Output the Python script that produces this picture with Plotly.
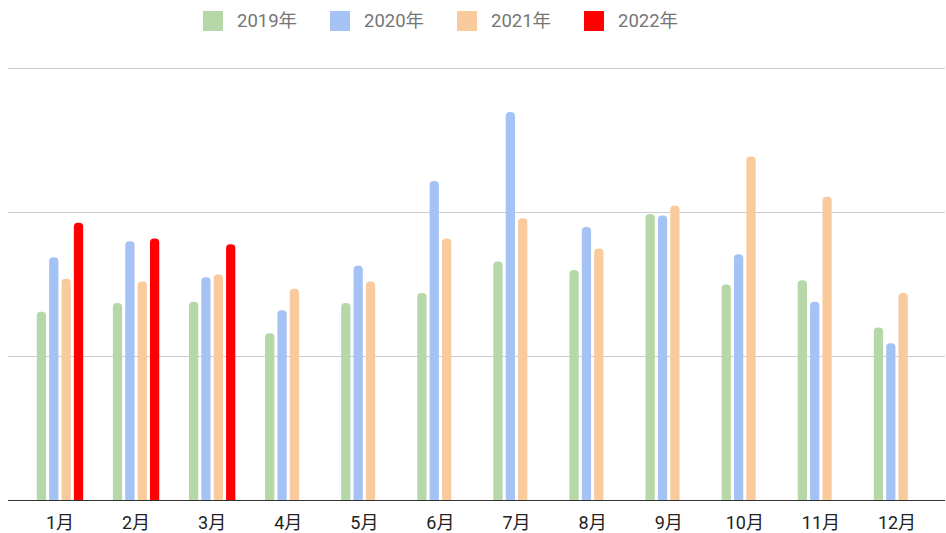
import plotly.graph_objects as go

months = ["1月", "2月", "3月", "4月", "5月", "6月", "7月", "8月", "9月", "10月", "11月", "12月"]
series_names = ["2019年", "2020年", "2021年", "2022年"]
colors = ["#b6d7a8", "#a4c2f4", "#f9cb9c", "#ff0000"]

v2019 = [131, 137, 138, 116, 137, 144, 166, 160, 199, 150, 153, 120]
v2020 = [169, 180, 155, 132, 163, 222, 270, 190, 198, 171, 138, 109]
v2021 = [154, 152, 157, 147, 152, 182, 196, 175, 205, 239, 211, 144]
v2022 = [193, 182, 178]

values = [v2019, v2020, v2021, v2022]

W, H = 946, 533
ML, MR, MT, MB = 8, 1, 66, 33
PW, PH = W - ML - MR, H - MT - MB
YMAX = 302

fig = go.Figure()
for name, col, vals in zip(series_names, colors, values):
    fig.add_trace(go.Bar(
        x=months[:len(vals)], y=vals, name=name,
        marker=dict(color=col, cornerradius="50%", line=dict(width=0)),
        showlegend=False,
    ))

FONT = "Roboto, 'Noto Sans CJK JP', sans-serif"

def px_x(px):
    return (px - ML) / PW

def px_y(py):
    return (H - MB - py) / PH

shapes = []
annotations = []
leg_x0, leg_step, sq, leg_cy = 203, 127, 20, 21
for i, (name, col) in enumerate(zip(series_names, colors)):
    x0 = leg_x0 + i * leg_step
    shapes.append(dict(type="rect", xref="paper", yref="paper",
                       x0=px_x(x0), x1=px_x(x0 + sq),
                       y0=px_y(leg_cy + sq / 2), y1=px_y(leg_cy - sq / 2),
                       fillcolor=col, line=dict(width=0), layer="above"))
    annotations.append(dict(xref="paper", yref="paper", x=px_x(x0 + sq + 12), y=px_y(leg_cy),
                            text=name, showarrow=False, xanchor="left", yanchor="middle",
                            font=dict(family=FONT, size=18.5, color="#757575")))

fig.update_layout(
    width=W, height=H,
    margin=dict(l=ML, r=MR, t=MT, b=MB, pad=0),
    paper_bgcolor="white", plot_bgcolor="white",
    barmode="group", bargap=0.35, bargroupgap=0.25,
    showlegend=False,
    font=dict(family=FONT, color="#222222"),
    shapes=shapes, annotations=annotations,
    xaxis=dict(
        type="category", categoryorder="array", categoryarray=months,
        range=[-0.683, 11.631],
        showgrid=False, showline=True, linecolor="#333333", linewidth=1.3,
        ticks="", tickfont=dict(family=FONT, size=18, color="#222222"),
        ticklabelstandoff=6,
        fixedrange=True,
    ),
    yaxis=dict(
        range=[0, YMAX], dtick=100, tick0=0,
        showgrid=True, gridcolor="#cccccc", gridwidth=1,
        zeroline=False, showticklabels=False, ticks="", showline=False,
        fixedrange=True,
    ),
)

fig.write_html("out.html", config={"displayModeBar": False},
               post_script="document.body.style.margin='0';document.body.style.padding='0';")
